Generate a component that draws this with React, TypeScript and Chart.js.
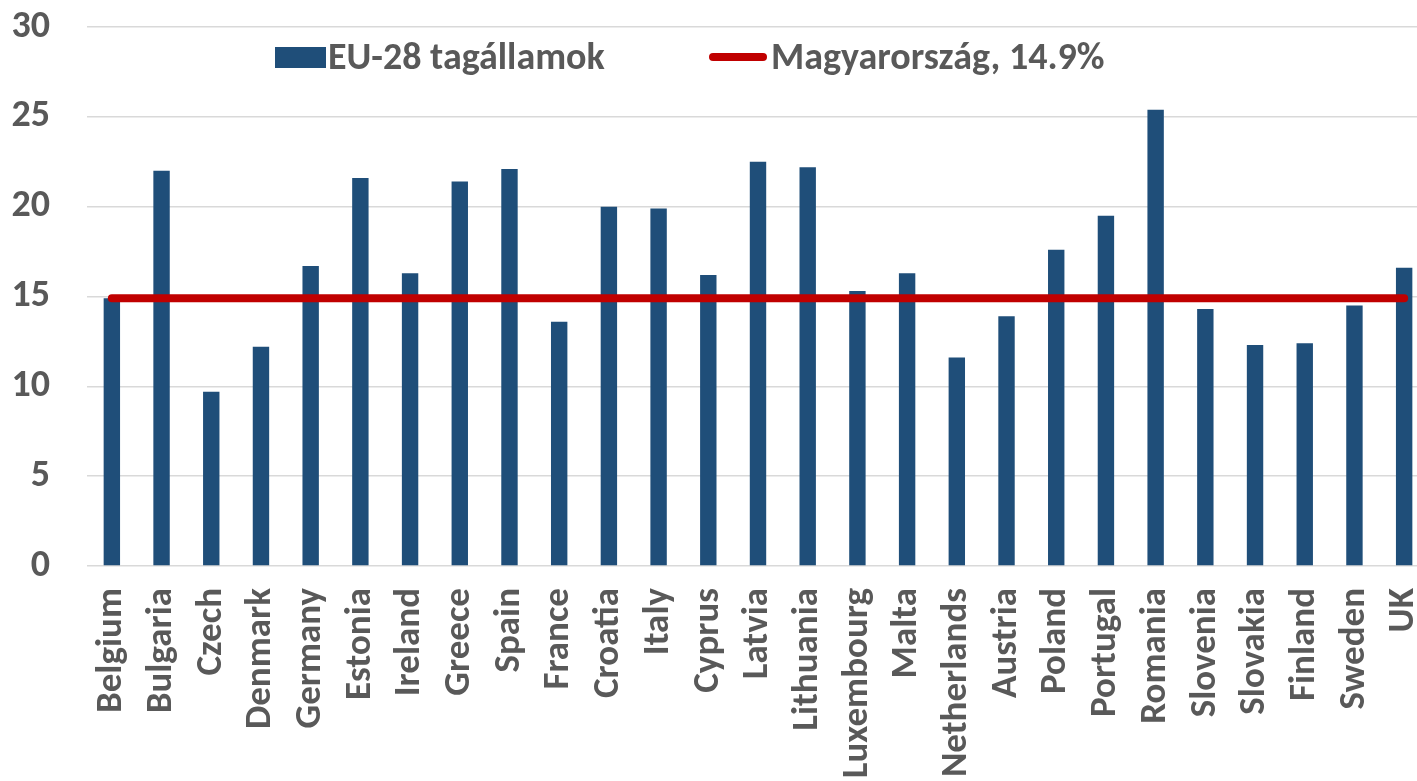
import React, { useEffect, useRef } from "react";
import { Chart, registerables } from "chart.js";

Chart.register(...registerables);

const countries = [
  "Belgium", "Bulgaria", "Czech", "Denmark", "Germany", "Estonia", "Ireland",
  "Greece", "Spain", "France", "Croatia", "Italy", "Cyprus", "Latvia",
  "Lithuania", "Luxembourg", "Malta", "Netherlands", "Austria", "Poland",
  "Portugal", "Romania", "Slovenia", "Slovakia", "Finland", "Sweden", "UK",
];

const euValues = [
  14.9, 22.0, 9.7, 12.2, 16.7, 21.6, 16.3, 21.4, 22.1, 13.6, 20.0, 19.9, 16.2,
  22.5, 22.2, 15.3, 16.3, 11.6, 13.9, 17.6, 19.5, 25.4, 14.3, 12.3, 12.4, 14.5, 16.6,
];

const huValues = [
  14.9, 14.9, 14.9, 14.9, 14.9, 14.9, 14.9, 14.9, 14.9, 14.9, 14.9, 14.9, 14.9,
  14.9, 14.9, 14.9, 14.9, 14.9, 14.9, 14.9, 14.9, 14.9, 14.9, 14.9, 14.9, 14.9, 14.9,
];

const yTicks = [0, 5, 10, 15, 20, 25, 30];

const barLabel = "EU-28 tagállamok";
const lineLabel = "Magyarország, 14.9%";

const FONT = "Carlito, Calibri, Lato, 'Open Sans', sans-serif";
const FONT_SIZE = 38;
const X_FONT_SIZE = 37;
const TEXT = "#595959";
const BLUE = "#1f4e79";
const RED = "#c00000";

const CANVAS_W = 1430;
const CANVAS_H = 781;

export default function App() {
  const ref = useRef<HTMLCanvasElement | null>(null);

  useEffect(() => {
    if (!ref.current) return;
    const chart = new Chart(ref.current, {
      type: "bar",
      data: {
        labels: countries,
        datasets: [
          {
            type: "line",
            label: lineLabel,
            data: huValues,
            borderColor: RED,
            backgroundColor: RED,
            borderWidth: 8,
            borderCapStyle: "round",
            pointRadius: 0,
            order: 0,
          } as any,
          {
            type: "bar",
            label: barLabel,
            data: euValues,
            backgroundColor: BLUE,
            barPercentage: 0.33,
            categoryPercentage: 1,
            order: 1,
          },
        ],
      },
      options: {
        responsive: false,
        animation: false,
        layout: { padding: { top: 27, left: 0, right: 1, bottom: 0 } },
        plugins: {
          legend: { display: false },
          tooltip: { enabled: false },
        },
        scales: {
          x: {
            grid: { display: false, drawTicks: false },
            border: { display: false },
            ticks: {
              autoSkip: false,
              maxRotation: 90,
              minRotation: 90,
              padding: 22,
              color: TEXT,
              font: { family: FONT, size: X_FONT_SIZE, weight: "bold" },
            },
            afterFit: (scale: any) => {
              scale.height = CANVAS_H - 566;
              scale.paddingLeft = 0;
              scale.paddingRight = 0;
            },
          },
          y: {
            min: 0,
            max: 30,
            afterBuildTicks: (scale: any) => {
              scale.ticks = yTicks.map((v) => ({ value: v }));
            },
            grid: { color: "#d9d9d9", lineWidth: 1.5, drawTicks: false },
            border: { display: false },
            ticks: {
              padding: 37,
              color: TEXT,
              font: { family: FONT, size: FONT_SIZE, weight: "bold" },
            },
            afterFit: (scale: any) => {
              scale.width = 87;
              scale.paddingTop = 0;
              scale.paddingBottom = 0;
            },
          },
        },
      },
    });
    return () => chart.destroy();
  }, []);

  const legendText: React.CSSProperties = {
    position: "absolute",
    fontFamily: FONT,
    fontWeight: "bold",
    fontSize: FONT_SIZE,
    color: TEXT,
    lineHeight: FONT_SIZE + "px",
    whiteSpace: "nowrap",
  };

  return (
    <div
      style={{
        position: "fixed",
        left: 0,
        top: 0,
        width: 1417,
        height: 781,
        overflow: "hidden",
        background: "#fff",
      }}
    >
      <canvas
        ref={ref}
        width={CANVAS_W}
        height={CANVAS_H}
        style={{ position: "absolute", left: 0, top: 0, width: CANVAS_W, height: CANVAS_H }}
      />
      <div
        style={{
          position: "absolute",
          left: 275,
          top: 47,
          width: 51,
          height: 21,
          background: BLUE,
        }}
      />
      <div style={{ ...legendText, left: 328, top: 37 }}>{barLabel}</div>
      <div
        style={{
          position: "absolute",
          left: 709,
          top: 53,
          width: 58,
          height: 8,
          borderRadius: 4,
          background: RED,
        }}
      />
      <div style={{ ...legendText, left: 771, top: 37 }}>{lineLabel}</div>
    </div>
  );
}
